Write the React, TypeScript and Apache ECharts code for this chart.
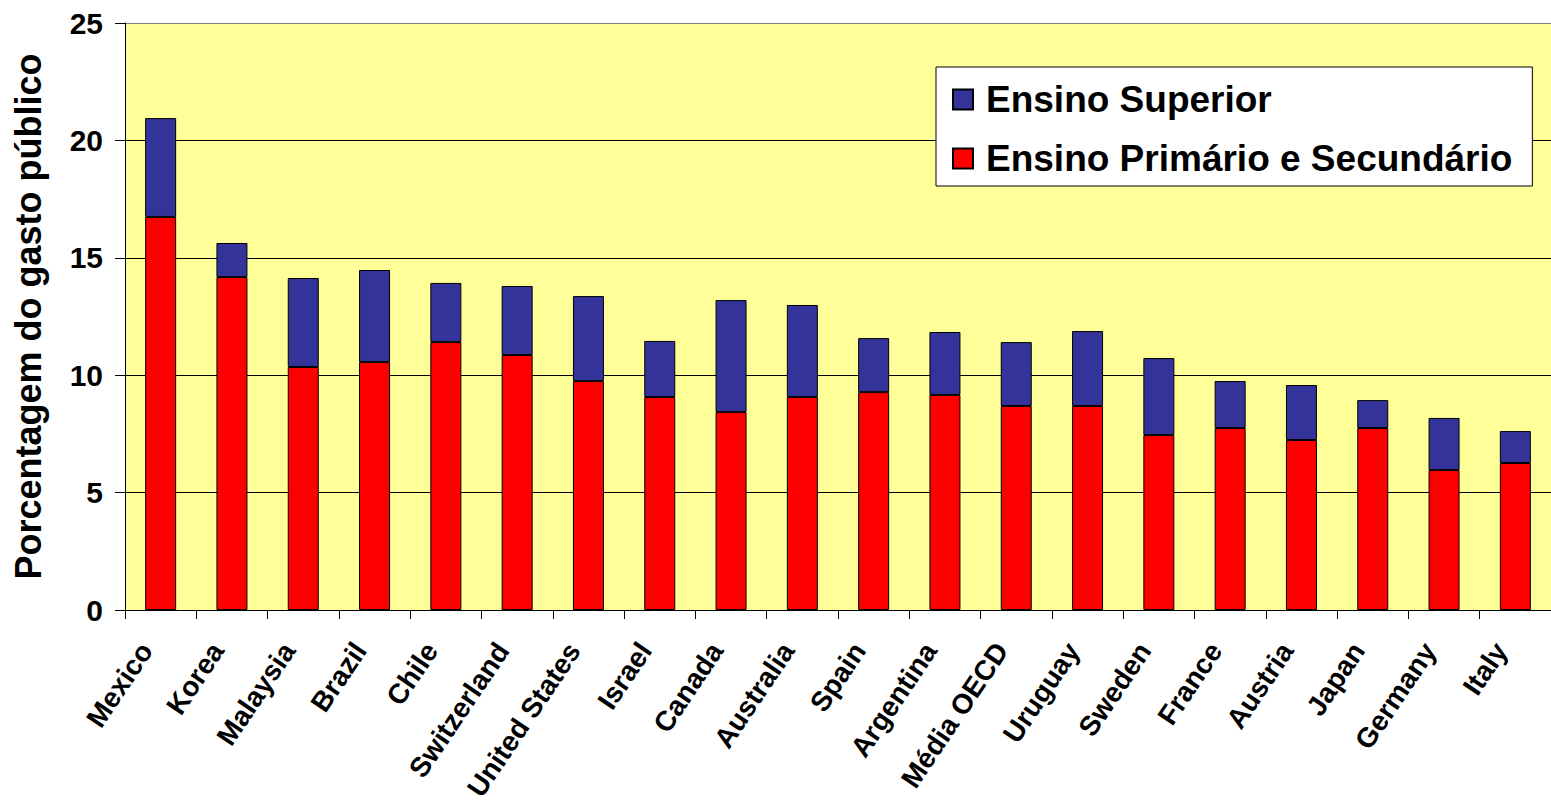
import React, { useEffect, useRef } from "react";
import * as echarts from "echarts";

const categories = [
  "Mexico", "Korea", "Malaysia", "Brazil", "Chile", "Switzerland", "United States",
  "Israel", "Canada", "Australia", "Spain", "Argentina", "Média OECD", "Uruguay",
  "Sweden", "France", "Austria", "Japan", "Germany", "Italy",
];
const primarioSecundario = [
  16.74, 14.18, 10.35, 10.56, 11.41, 10.86, 9.75, 9.07, 8.43, 9.07,
  9.28, 9.16, 8.69, 8.69, 7.45, 7.75, 7.24, 7.75, 5.96, 6.26,
];
const superior = [
  4.21, 1.45, 3.79, 3.92, 2.52, 2.94, 3.62, 2.39, 4.77, 3.92,
  2.3, 2.68, 2.72, 3.19, 3.28, 2.0, 2.34, 1.19, 2.22, 1.36,
];
const seriesNames = ["Ensino Superior", "Ensino Primário e Secundário"];
const yTicks = { min: 0, max: 25, interval: 5 };

const FONT = "'Liberation Sans', Arial, sans-serif";

export default function App() {
  const ref = useRef<HTMLDivElement>(null);
  useEffect(() => {
    if (!ref.current) return;
    const chart = echarts.init(ref.current, undefined, { renderer: "svg" });
    chart.setOption({
      animation: false,
      backgroundColor: "#ffffff",
      textStyle: { fontFamily: FONT },
      grid: {
        left: 125,
        right: 0,
        top: 23,
        bottom: 194,
        containLabel: false,
        outerBoundsMode: "none",
        show: true,
        backgroundColor: "#FFFF99",
        borderWidth: 0,
      },
      legend: {
        data: seriesNames,
        orient: "vertical",
        left: 936,
        top: 67,
        backgroundColor: "#ffffff",
        borderColor: "#000000",
        borderWidth: 1,
        padding: [14, 20, 9, 16],
        itemWidth: 20,
        itemHeight: 20,
        itemGap: 22,
        icon: "rect",
        textStyle: {
          fontSize: 37,
          lineHeight: 36,
          fontWeight: "bold",
          color: "#000",
          fontFamily: FONT,
          padding: [0, 0, 0, 8],
        },
      },
      xAxis: {
        type: "category",
        data: categories,
        axisLine: { lineStyle: { color: "#000", width: 1 } },
        axisTick: { show: true, length: 9, alignWithLabel: false, lineStyle: { color: "#000" } },
        axisLabel: {
          interval: 0,
          rotate: 56,
          margin: 14,
          padding: [0, 26, 0, 0],
          fontSize: 28,
          fontWeight: "bold",
          color: "#000",
          fontFamily: FONT,
        },
      },
      yAxis: {
        type: "value",
        min: yTicks.min,
        max: yTicks.max,
        interval: yTicks.interval,
        name: "Porcentagem do gasto público",
        nameLocation: "middle",
        nameGap: 79,
        nameTextStyle: { fontSize: 36, fontWeight: "bold", color: "#000", fontFamily: FONT },
        axisLine: { show: true, lineStyle: { color: "#000", width: 1 } },
        axisTick: { show: true, length: 10, lineStyle: { color: "#000" } },
        axisLabel: {
          margin: 22,
          fontSize: 30,
          fontWeight: "bold",
          color: "#000",
          fontFamily: FONT,
        },
        splitLine: {
          show: true,
          lineStyle: { color: ["#000", "#000", "#000", "#000", "#000", "#808080"], width: 1 },
        },
      },
      series: [
        {
          name: seriesNames[1],
          type: "bar",
          stack: "total",
          data: primarioSecundario,
          barWidth: 31,
          itemStyle: { color: "#FF0000", borderColor: "#000", borderWidth: 1 },
        },
        {
          name: seriesNames[0],
          type: "bar",
          stack: "total",
          data: superior,
          barWidth: 31,
          itemStyle: { color: "#333399", borderColor: "#000", borderWidth: 1 },
        },
      ],
    });
    return () => chart.dispose();
  }, []);
  return (
    <div
      ref={ref}
      style={{ position: "fixed", left: 0, top: 0, width: 1551, height: 804 }}
    />
  );
}
